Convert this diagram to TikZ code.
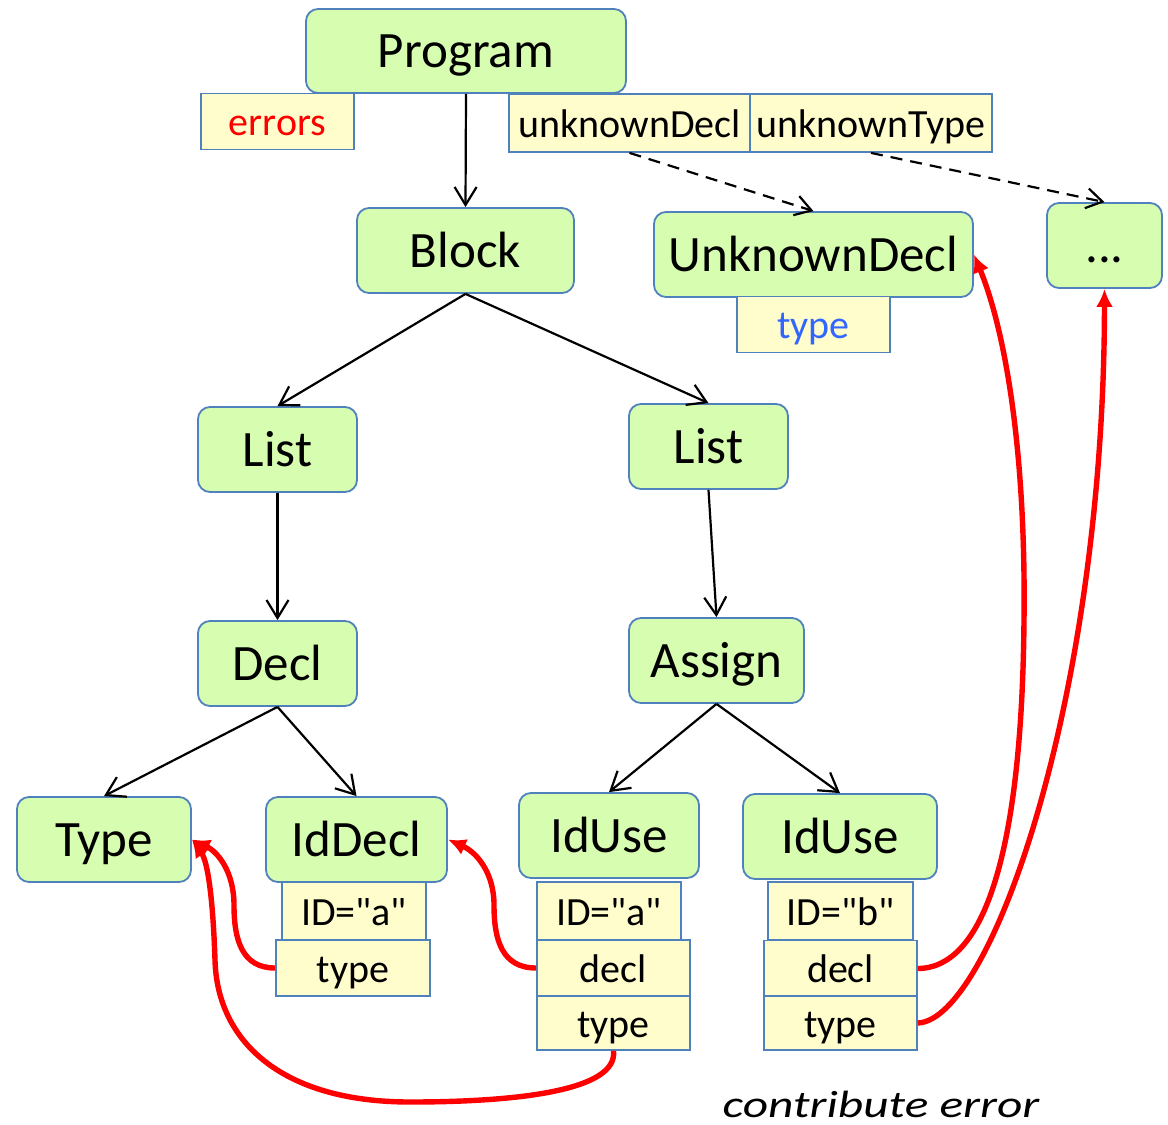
\documentclass[tikz,border=0pt]{standalone}
\usepackage{fontspec}
\setmainfont{Carlito}
\usepackage{tikz}
\usetikzlibrary{arrows.meta,positioning,calc}
\definecolor{boxblue}{HTML}{4F81BD}
\definecolor{nodegreen}{HTML}{D7FDB0}
\definecolor{attryellow}{HTML}{FFFDCC}
\definecolor{reftext}{HTML}{FF0000}
\definecolor{inhtext}{HTML}{3366FF}
\newcommand{\qid}[1]{ID=\textquotedbl#1\textquotedbl}

\begin{document}
\begin{tikzpicture}[x=0.5pt,y=-0.5pt,
  treenode/.style={draw=boxblue, fill=nodegreen, line width=0.9pt, rounded corners=6pt,
    inner sep=0pt, minimum height=42.5pt, text height=17.4pt, text depth=0.8pt,
    font=\fontsize{25.5}{28}\selectfont},
  attr/.style={draw=boxblue, fill=attryellow, line width=0.9pt, inner sep=0pt,
    minimum height=28pt, text height=14.4pt, text depth=0.4pt,
    font=\fontsize{20}{22}\selectfont},
  child/.style={line width=1.1pt, -{Straight Barb[length=9pt,width=11pt]}},
  ntaref/.style={line width=1.1pt, dash pattern=on 6pt off 4pt,
    -{Straight Barb[length=8pt,width=10pt]}},
  refarrow/.style={red, line width=2.7pt, -{Latex[length=9pt,width=8.5pt]}}]
\useasboundingbox (0,0) rectangle (1168,1125);

% Tree nodes
\node[treenode, minimum width=160pt, minimum height=42pt] (prog) at (466,51) {Program};
\node[treenode, minimum width=108.5pt] (block) at (465.5,250.5) {Block};
\node[treenode, minimum width=159.5pt] (unkdecl) at (813.5,254.5) {UnknownDecl};
\node[treenode, minimum width=57.5pt] (dots) at (1104.5,245.5) {...};
\node[treenode, minimum width=79.5pt] (listL) at (277.5,449.5) {List};
\node[treenode, minimum width=79.5pt] (listR) at (708.5,446.5) {List};
\node[treenode, minimum width=79.5pt] (decl) at (277.5,663.5) {Decl};
\node[treenode, minimum width=87.5pt] (assign) at (716.5,660.5) {Assign};
\node[treenode, minimum width=87pt] (type) at (104,839.5) {Type};
\node[treenode, minimum width=90.5pt] (iddecl) at (356.5,839.5) {IdDecl};
\node[treenode, minimum width=90pt] (iduseA) at (609,835.5) {IdUse};
\node[treenode, minimum width=97pt] (iduseB) at (840,836.5) {IdUse};

% Attributes
\node[attr, minimum width=76.5pt, text=reftext] (errors) at (277.5,121.5) {errors};
\node[attr, minimum width=120.5pt, minimum height=29pt] (ukdecl) at (629.5,123) {unknownDecl};
\node[attr, minimum width=121pt, minimum height=29pt] (uktype) at (871,123) {unknownType};
\node[attr, minimum width=76.5pt, text=inhtext] (unktype) at (813.5,324.5) {type};
\node[attr, minimum width=72pt, minimum height=29pt] (iddeclid) at (354,911) {\qid{a}};
\node[attr, minimum width=77pt] (iddecltype) at (353,968) {type};
\node[attr, minimum width=72pt, minimum height=29pt] (iduseAid) at (609,911) {\qid{a}};
\node[attr, minimum width=76.5pt] (iduseAdecl) at (613.5,968) {decl};
\node[attr, minimum width=76.5pt, minimum height=27pt] (iduseAtype) at (613.5,1023) {type};
\node[attr, minimum width=72.5pt, minimum height=29pt] (iduseBid) at (840.5,911) {\qid{b}};
\node[attr, minimum width=76.5pt] (iduseBdecl) at (840.5,968.5) {decl};
\node[attr, minimum width=76.5pt, minimum height=27pt] (iduseBtype) at (840.5,1023) {type};

\node[font=\fontsize{19}{22}\selectfont\itshape, inner sep=0pt, anchor=base]
  (contrib) at (881,1117) {\scalebox{1.3}[1]{contribute error}};

% Child edges
\draw[child] (prog.south) -- (block.north);
\draw[child] (block.south) -- (listL.north);
\draw[child] (block.south) -- (listR.north);
\draw[child] (listL.south) -- (decl.north);
\draw[child] (listR.south) -- (assign.north);
\draw[child] (decl.south) -- (type.north);
\draw[child] (decl.south) -- (iddecl.north);
\draw[child] (assign.south) -- (iduseA.north);
\draw[child] (assign.south) -- (iduseB.north);

% NTA edges
\draw[ntaref] (ukdecl.south) -- (unkdecl.north);
\draw[ntaref] (uktype.south) -- (dots.north);

% Reference attributes
\draw[refarrow] (iddecltype.west) .. controls (242,968) and (234,940) .. (234,905)
  .. controls (234,872) and (218,852) .. (type.east);
\draw[refarrow] (iduseAdecl.west) .. controls (502,968) and (494,940) .. (494,905)
  .. controls (494,872) and (476,852) .. (iddecl.east);
\draw[refarrow] (iduseAtype.south) .. controls (618,1090) and (520,1102) .. (410,1102)
  .. controls (280,1102) and (217,1040) .. (215,960)
  .. controls (213,900) and (208,862) .. (type.east);
\draw[refarrow] (iduseBdecl.east) .. controls (985,968) and (1022,850) .. (1024,620)
  .. controls (1026,450) and (1005,330) .. (unkdecl.east);
\draw[refarrow] (iduseBtype.east) .. controls (990,1020) and (1104,700) .. (dots.south);
\end{tikzpicture}
\end{document}
